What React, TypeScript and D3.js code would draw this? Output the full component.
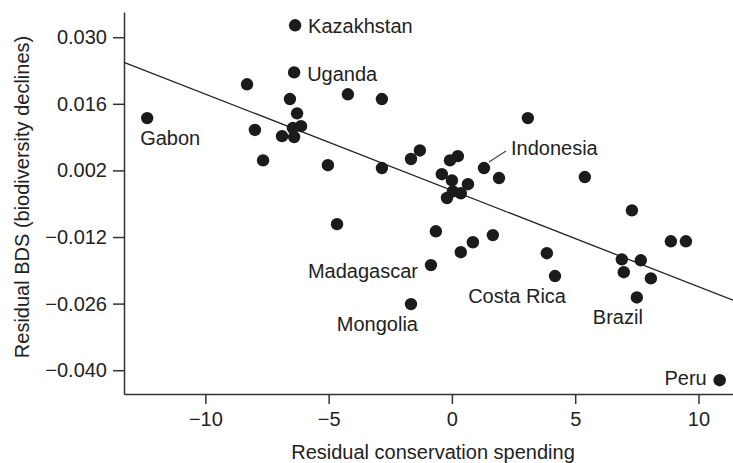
import { useRef, useEffect } from "react";
import * as d3 from "d3";

// Residual conservation spending (x) vs residual BDS (y), one entry per country
const countries = [
  "Kazakhstan", "Uganda", "", "", "", "", "Gabon", "", "", "", "", "", "", "", "",
  "", "", "", "", "", "", "", "Indonesia", "", "", "", "", "", "", "", "",
  "", "", "", "", "", "Madagascar", "Mongolia", "", "Costa Rica", "", "", "", "",
  "Brazil", "", "", "Peru",
];
const spending = [
  -6.36, -6.4, -8.31, -4.22, -6.57, -6.28, -12.36, -7.99, -6.45, -6.12, -6.89, -6.4, -7.66, -5.03, -4.66,
  -2.84, 3.08, -1.3, -1.66, 0.24, -0.08, -2.84, 1.3, 1.91, 5.39, -0.41, 0.0, 0.65, 0.04, 0.36, -0.2,
  7.3, -0.65, 1.66, 0.85, 0.36, -0.85, -1.66, 3.85, 4.18, 6.89, 7.66, 6.97, 8.07,
  7.5, 8.88, 9.49, 10.86,
];
const bds = [
  0.0325, 0.0226, 0.0201, 0.018, 0.017, 0.014, 0.013, 0.0105, 0.0109, 0.0113, 0.0092, 0.009, 0.0041, 0.0031, -0.0093,
  0.017, 0.013, 0.0062, 0.0044, 0.005, 0.0041, 0.0025, 0.0025, 0.0004, 0.0006, 0.0012, -0.0001, -0.0009, -0.0024, -0.0028, -0.0038,
  -0.0064, -0.0108, -0.0116, -0.0131, -0.0152, -0.0179, -0.0261, -0.0154, -0.0202, -0.0167, -0.0169, -0.0194, -0.0207,
  -0.0247, -0.0129, -0.0129, -0.0421,
];

const xTicks = [-10, -5, 0, 5, 10];
const yTicks = [-0.04, -0.026, -0.012, 0.002, 0.016, 0.03];

// fitted line: bds = intercept + slope * spending
const fitIntercept = -0.0022;
const fitSlope = -0.002025;

export default function App() {
  const chartRef = useRef<HTMLDivElement>(null);

  useEffect(() => {
    if (!chartRef.current) return;
    d3.select(chartRef.current).selectAll("*").remove();

    const width = 733;
    const height = 463;
    const font = "'Liberation Sans', Arial, Helvetica, sans-serif";
    const ink = "#222";

    const svg = d3
      .select(chartRef.current)
      .append("svg")
      .attr("width", width)
      .attr("height", height)
      .style("display", "block")
      .style("font-family", font);

    svg.append("rect").attr("width", width).attr("height", height).attr("fill", "#fff");

    const xScale = d3.scaleLinear().domain([-13.3, 11.4]).range([124, 733]);
    const yScale = d3.scaleLinear().domain([-0.045, 0.0353]).range([394, 12]);

    // Axes
    const xAxis = d3
      .axisBottom(xScale)
      .tickValues(xTicks)
      .tickSize(10)
      .tickSizeOuter(0)
      .tickPadding(8)
      .tickFormat(d3.format("d") as any);

    const yAxis = d3
      .axisLeft(yScale)
      .tickValues(yTicks)
      .tickSize(11)
      .tickSizeOuter(0)
      .tickPadding(6)
      .tickFormat(d3.format(".3f") as any);

    const gx = svg.append("g").attr("transform", `translate(0,${yScale.range()[0]})`).call(xAxis);
    const gy = svg.append("g").attr("transform", `translate(${xScale.range()[0]},0)`).call(yAxis);

    [gx, gy].forEach((g) => {
      g.selectAll("path, line").attr("stroke", "#333").attr("stroke-width", 1.5);
      g.selectAll("text").attr("font-size", "20px").attr("font-family", font).attr("fill", ink);
    });

    // Axis titles
    svg
      .append("text")
      .attr("x", 433)
      .attr("y", 459)
      .attr("text-anchor", "middle")
      .attr("font-size", "20px")
      .attr("fill", ink)
      .text("Residual conservation spending");

    svg
      .append("text")
      .attr("transform", `translate(29,197) rotate(-90)`)
      .attr("text-anchor", "middle")
      .attr("font-size", "20px")
      .attr("fill", ink)
      .text("Residual BDS (biodiversity declines)");

    // Regression line
    const [x0, x1] = xScale.domain();
    svg
      .append("line")
      .attr("x1", xScale(x0))
      .attr("y1", yScale(fitIntercept + fitSlope * x0))
      .attr("x2", xScale(x1))
      .attr("y2", yScale(fitIntercept + fitSlope * x1))
      .attr("stroke", "#222")
      .attr("stroke-width", 1.3);

    const points = spending.map((x, i) => ({ x, y: bds[i], name: countries[i] }));

    svg
      .append("g")
      .selectAll("circle")
      .data(points)
      .enter()
      .append("circle")
      .attr("cx", (d) => xScale(d.x))
      .attr("cy", (d) => yScale(d.y))
      .attr("r", 6.2)
      .attr("fill", "#1b1b1b");

    // Country label placement relative to its point
    const placement: Record<string, { dx: number; dy: number; anchor: string }> = {
      Kazakhstan: { dx: 13, dy: 8, anchor: "start" },
      Uganda: { dx: 13, dy: 9, anchor: "start" },
      Gabon: { dx: -7, dy: 27, anchor: "start" },
      Indonesia: { dx: 27, dy: -13, anchor: "start" },
      Madagascar: { dx: -13, dy: 13, anchor: "end" },
      Mongolia: { dx: 7, dy: 27, anchor: "end" },
      "Costa Rica": { dx: 11, dy: 27, anchor: "end" },
      Brazil: { dx: 6, dy: 27, anchor: "end" },
      Peru: { dx: -13, dy: 5, anchor: "end" },
    };

    const labelled = points.filter((d) => d.name);

    svg
      .append("g")
      .selectAll("text")
      .data(labelled)
      .enter()
      .append("text")
      .attr("x", (d) => xScale(d.x) + placement[d.name].dx)
      .attr("y", (d) => yScale(d.y) + placement[d.name].dy)
      .attr("text-anchor", (d) => placement[d.name].anchor)
      .attr("font-size", "20px")
      .attr("fill", ink)
      .text((d) => d.name);

    // Leader line for Indonesia
    const indo = labelled.find((d) => d.name === "Indonesia");
    if (indo) {
      svg
        .append("line")
        .attr("x1", xScale(indo.x) + 5)
        .attr("y1", yScale(indo.y) - 6)
        .attr("x2", xScale(indo.x) + 22)
        .attr("y2", yScale(indo.y) - 17)
        .attr("stroke", "#444")
        .attr("stroke-width", 1.2);
    }
  }, []);

  return (
    <div style={{ position: "absolute", left: 0, top: 0 }}>
      <div ref={chartRef}></div>
    </div>
  );
}
